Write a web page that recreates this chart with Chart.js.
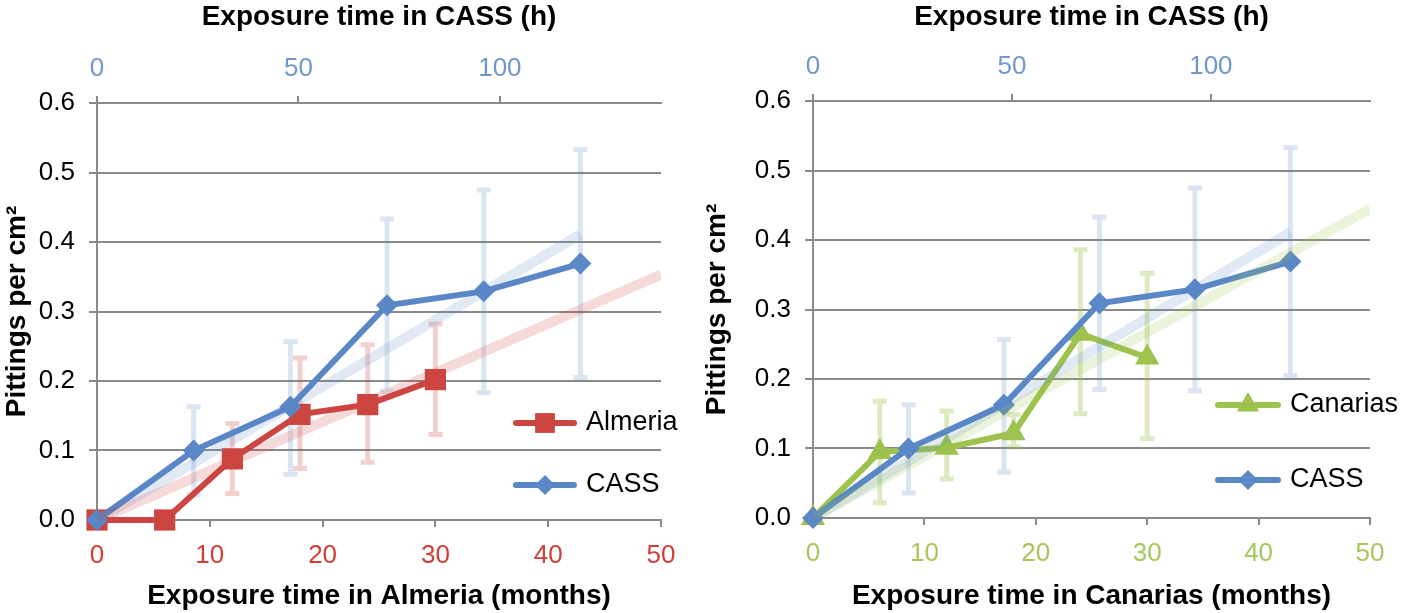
<!DOCTYPE html>
<html lang="en">
<head>
<meta charset="UTF-8">
<title>Pittings per cm²</title>
<script src="https://cdn.jsdelivr.net/npm/chart.js"></script>
<style>
  * { margin: 0; padding: 0; box-sizing: border-box; }
  body { background: #fff; width: 1401px; height: 613px; overflow: hidden; }
  .wrap { position: relative; width: 1401px; height: 613px; }
  canvas { position: absolute; top: 0; }
  #chartAlmeria { left: 0; }
  #chartCanarias { left: 700px; }
</style>
</head>
<body>
<div class="wrap">
  <canvas id="chartAlmeria" width="700" height="613"></canvas>
  <canvas id="chartCanarias" width="701" height="613"></canvas>
</div>
<script>
// tick labels
const monthTicks = [0, 10, 20, 30, 40, 50];
const hourTicks = [0, 50, 100];
const pitTicks = [0, 0.1, 0.2, 0.3, 0.4, 0.5, 0.6];

// CASS chamber (hours, top axis)
const cassHours = [0, 24, 48, 72, 96, 120];
const cassPits = [0, 0.100, 0.163, 0.309, 0.329, 0.369];
const cassErrLow = [null, 0.036, 0.066, 0.185, 0.183, 0.205];
const cassErrHigh = [null, 0.163, 0.257, 0.433, 0.475, 0.533];
const cassTrend = [[0, 0], [120, 0.411]];

// Almeria (months, bottom axis)
const almeriaMonths = [0, 6, 12, 18, 24, 30];
const almeriaPits = [0, 0, 0.088, 0.152, 0.166, 0.202];
const almeriaErrLow = [null, null, 0.038, 0.074, 0.083, 0.123];
const almeriaErrHigh = [null, null, 0.139, 0.233, 0.252, 0.282];
const almeriaTrend = [[0, 0], [50, 0.353]];

// Canarias (months, bottom axis)
const canariasMonths = [0, 6, 12, 18, 24, 30];
const canariasPits = [0, 0.095, 0.101, 0.122, 0.265, 0.231];
const canariasErrLow = [null, 0.022, 0.056, 0.102, 0.150, 0.114];
const canariasErrHigh = [null, 0.168, 0.154, 0.149, 0.386, 0.352];
const canariasTrend = [[0, 0], [50, 0.445]];

const FONT = "'Liberation Sans', Arial, Helvetica, sans-serif";
Chart.defaults.font.family = FONT;

const gridColor = '#8a8a8a';
const blue = '#5a87c6';
const red = '#cd4541';
const green = '#9dc24e';

function pts(xs, ys) {
  return xs.map((x, i) => ({ x: x, y: ys[i] }));
}

function drawMarker(ctx, style, x, y, r, color) {
  ctx.fillStyle = color;
  ctx.beginPath();
  if (style === 'rect') {
    const s = r * Math.SQRT1_2;
    ctx.rect(x - s, y - s, 2 * s, 2 * s);
  } else if (style === 'rectRot') {
    ctx.moveTo(x, y - r); ctx.lineTo(x + r, y); ctx.lineTo(x, y + r); ctx.lineTo(x - r, y);
  } else {
    ctx.moveTo(x, y - r);
    ctx.lineTo(x + r * Math.sin(2 * Math.PI / 3), y - r * Math.cos(2 * Math.PI / 3));
    ctx.lineTo(x + r * Math.sin(4 * Math.PI / 3), y - r * Math.cos(4 * Math.PI / 3));
  }
  ctx.closePath();
  ctx.fill();
}

// error bars drawn under every dataset
function errorBars(sets) {
  return {
    id: 'errorBars',
    beforeDatasetsDraw(chart) {
      const ctx = chart.ctx, ys = chart.scales.y;
      ctx.save();
      ctx.lineWidth = 5;
      sets.forEach(s => {
        const xs = chart.scales[s.axis];
        ctx.strokeStyle = s.color;
        ctx.beginPath();
        s.x.forEach((xv, i) => {
          if (s.lo[i] == null) return;
          const px = xs.getPixelForValue(xv);
          const top = ys.getPixelForValue(s.hi[i]);
          const bot = ys.getPixelForValue(s.lo[i]);
          ctx.moveTo(px, top); ctx.lineTo(px, bot);
          ctx.moveTo(px - 7, top); ctx.lineTo(px + 7, top);
          ctx.moveTo(px - 7, bot); ctx.lineTo(px + 7, bot);
        });
        ctx.stroke();
      });
      ctx.restore();
    }
  };
}

// legend inside the plot, lower right
function insideLegend(items, left, lineLen) {
  return {
    id: 'insideLegend',
    afterDraw(chart) {
      const ctx = chart.ctx;
      ctx.save();
      items.forEach(it => {
        ctx.strokeStyle = it.color;
        ctx.lineWidth = 6;
        ctx.lineCap = 'round';
        ctx.beginPath();
        ctx.moveTo(left, it.y);
        ctx.lineTo(left + lineLen, it.y);
        ctx.stroke();
        drawMarker(ctx, it.style, left + lineLen / 2, it.y, it.r, it.color);
        ctx.fillStyle = '#000';
        ctx.font = '27px ' + FONT;
        ctx.textBaseline = 'middle';
        ctx.fillText(it.text, left + lineLen + 12, it.y);
      });
      ctx.restore();
    }
  };
}

function makeChart(id, c) {
  return new Chart(document.getElementById(id), {
    type: 'line',
    data: {
      datasets: [
        { label: c.site + ' trend', data: c.siteTrend.map(p => ({ x: p[0], y: p[1] })), xAxisID: 'x',
          borderColor: c.trendColor, borderWidth: 10, pointRadius: 0, order: 0 },
        { label: 'CASS trend', data: cassTrend.map(p => ({ x: p[0], y: p[1] })), xAxisID: 'x2',
          borderColor: 'rgba(90,135,198,0.18)', borderWidth: 10, pointRadius: 0, order: 0 },
        { label: 'CASS', data: pts(cassHours, cassPits), xAxisID: 'x2', clip: false,
          borderColor: blue, backgroundColor: blue, borderWidth: 6,
          pointStyle: 'rectRot', pointRadius: 11, pointBorderWidth: 0, order: 1 },
        { label: c.site, data: pts(c.siteMonths, c.sitePits), xAxisID: 'x', clip: false,
          borderColor: c.color, backgroundColor: c.color, borderWidth: 6,
          pointStyle: c.pointStyle, pointRadius: c.pointRadius, pointBorderWidth: 0, order: 2 }
      ]
    },
    options: {
      responsive: false,
      animation: false,
      devicePixelRatio: 1,
      layout: { padding: { top: 0, right: c.padRight, bottom: 0, left: 0 } },
      plugins: { legend: { display: false }, tooltip: { enabled: false } },
      scales: {
        x: {
          type: 'linear', position: 'bottom', min: 0, max: 50,
          afterBuildTicks: s => { s.ticks = monthTicks.map(v => ({ value: v })); },
          afterFit: s => { s.height = c.bottomH; },
          ticks: { color: c.tickColor, font: { size: 26 }, padding: 13, maxRotation: 0, autoSkip: false },
          grid: { drawOnChartArea: false, color: gridColor, lineWidth: 2, tickLength: 7 },
          border: { color: gridColor, width: 2 },
          title: { display: true, text: 'Exposure time in ' + c.site + ' (months)', color: '#000',
                   font: { size: 28, weight: 'bold' }, padding: 0 }
        },
        x2: {
          type: 'linear', position: 'top', min: 0, max: 140,
          afterBuildTicks: s => { s.ticks = hourTicks.map(v => ({ value: v })); },
          afterFit: s => { s.height = c.topH; },
          ticks: { color: '#6f97cc', font: { size: 26 }, padding: 12, maxRotation: 0, autoSkip: false },
          grid: { drawOnChartArea: false, color: gridColor, lineWidth: 2, tickLength: 7 },
          border: { color: gridColor, width: 2 },
          title: { display: true, text: 'Exposure time in CASS (h)', color: '#000',
                   font: { size: 28, weight: 'bold' }, padding: 0 }
        },
        y: {
          type: 'linear', position: 'left', min: 0, max: 0.6,
          afterBuildTicks: s => { s.ticks = pitTicks.map(v => ({ value: v })); },
          afterFit: s => { s.width = c.leftW; },
          ticks: { color: '#000', font: { size: 26 }, padding: 14, callback: v => v.toFixed(1) },
          grid: { color: gridColor, lineWidth: 2, tickLength: 8 },
          border: { color: gridColor, width: 2 },
          title: { display: true, text: 'Pittings per cm²', color: '#000',
                   font: { size: 28, weight: 'bold' }, padding: 0 }
        }
      }
    },
    plugins: [
      errorBars([
        { axis: 'x2', x: cassHours, lo: cassErrLow, hi: cassErrHigh, color: 'rgba(90,135,198,0.22)' },
        { axis: 'x', x: c.siteMonths, lo: c.siteErrLow, hi: c.siteErrHigh, color: c.errColor }
      ]),
      insideLegend([
        { text: c.site, color: c.color, style: c.pointStyle, r: c.pointRadius - 1, y: c.legendY[0] },
        { text: 'CASS', color: blue, style: 'rectRot', r: 10, y: c.legendY[1] }
      ], c.legendLeft, c.legendLine)
    ]
  });
}

makeChart('chartAlmeria', {
  site: 'Almeria', siteMonths: almeriaMonths, sitePits: almeriaPits,
  siteErrLow: almeriaErrLow, siteErrHigh: almeriaErrHigh, siteTrend: almeriaTrend,
  color: red, tickColor: '#d23d35', trendColor: 'rgba(205,69,65,0.2)', errColor: 'rgba(205,69,65,0.25)',
  pointStyle: 'rect', pointRadius: 15,
  leftW: 97, topH: 103, bottomH: 93, padRight: 39,
  legendLeft: 516, legendLine: 58, legendY: [423, 485]
});

makeChart('chartCanarias', {
  site: 'Canarias', siteMonths: canariasMonths, sitePits: canariasPits,
  siteErrLow: canariasErrLow, siteErrHigh: canariasErrHigh, siteTrend: canariasTrend,
  color: green, tickColor: '#a3c75a', trendColor: 'rgba(157,194,78,0.2)', errColor: 'rgba(157,194,78,0.35)',
  pointStyle: 'triangle', pointRadius: 14,
  leftW: 113, topH: 101, bottomH: 95, padRight: 31,
  legendLeft: 518, legendLine: 60, legendY: [405, 480]
});
</script>
</body>
</html>
